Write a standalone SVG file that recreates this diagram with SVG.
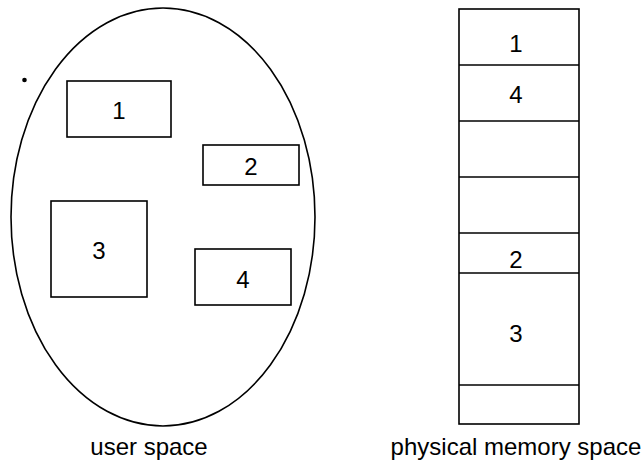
<svg xmlns="http://www.w3.org/2000/svg" width="644" height="474" viewBox="0 0 644 474">
<style>
.s{fill:none;stroke:#000;stroke-width:1.6}
.t{font-family:"Liberation Sans",Arial,sans-serif;font-size:24px;fill:#000;text-anchor:middle}
</style>
<rect width="644" height="474" fill="#fff"/>
<g id="user-space">
<ellipse class="s" cx="163" cy="217" rx="152" ry="209"/>
</g>
<circle cx="24.5" cy="80" r="2.3" fill="#000"/>
<g id="u1"><rect class="s" x="67" y="81" width="104" height="56"/><text class="t" x="119" y="118.5">1</text></g>
<g id="u2"><rect class="s" x="203" y="145" width="96" height="40"/><text class="t" x="251" y="174.5">2</text></g>
<g id="u3"><rect class="s" x="51" y="201" width="96" height="96"/><text class="t" x="99" y="258.5">3</text></g>
<g id="u4"><rect class="s" x="195" y="249" width="96" height="56"/><text class="t" x="243" y="287.5">4</text></g>
<g id="memory">
<rect class="s" x="459" y="9" width="120" height="415"/>
<line class="s" x1="459" y1="65" x2="579" y2="65"/>
<line class="s" x1="459" y1="121" x2="579" y2="121"/>
<line class="s" x1="459" y1="177" x2="579" y2="177"/>
<line class="s" x1="459" y1="233" x2="579" y2="233"/>
<line class="s" x1="459" y1="273" x2="579" y2="273"/>
<line class="s" x1="459" y1="385" x2="579" y2="385"/>
<text class="t" x="516" y="51.5">1</text>
<text class="t" x="516" y="102.5">4</text>
<text class="t" x="516" y="268">2</text>
<text class="t" x="516" y="341.5">3</text>
</g>
<g id="labels">
<text class="t" x="149" y="455">user space</text>
<text class="t" x="516" y="455">physical memory space</text>
</g>
</svg>
